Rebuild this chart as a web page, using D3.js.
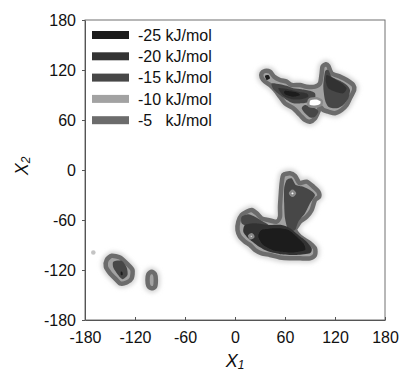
<!DOCTYPE html>
<html>
<head>
<meta charset="utf-8">
<script src="https://cdn.jsdelivr.net/npm/d3@7"></script>
<style>
  body { margin: 0; background: #fff; }
  svg { font-family: "Liberation Sans", Arial, sans-serif; }
</style>
</head>
<body>
<svg id="chart" width="399" height="375"></svg>
<script>
// legend levels and their grey shades
const levelLabels = ["-25 kJ/mol", "-20 kJ/mol", "-15 kJ/mol", "-10 kJ/mol", "-5   kJ/mol"];
const levelColors = ["#1b1b1b", "#333333", "#474747", "#a2a2a2", "#6c6c6c"];
const ticks = [-180, -120, -60, 0, 60, 120, 180];

// -5 kJ/mol contours (outer ring of each basin), [x1, x2] in degrees
const outerContours = [
  [[32,116],[36,119],[42,118],[47,112],[54,108],[62,106],[68,102],[78,102],[86,100],[96,100],[102,104],[104,116],[105,124],[109,127],[112,125],[116,116],[126,112],[134,108],[142,102],[143,96],[138,86],[134,78],[128,72],[120,68],[112,70],[106,72],[102,76],[100,70],[96,62],[90,58],[84,60],[78,66],[70,74],[60,80],[54,88],[48,96],[42,102],[36,106],[32,111]],
  [[58,-6],[66,-4],[72,-7],[76,-14],[78,-16],[86,-14],[94,-20],[100,-26],[101,-32],[96,-36],[92,-48],[86,-56],[78,-62],[74,-68],[72,-72],[78,-80],[84,-84],[90,-88],[96,-94],[96,-102],[90,-106],[78,-106],[66,-106],[54,-105],[42,-102],[32,-100],[24,-96],[18,-90],[12,-86],[6,-80],[3,-72],[4,-62],[8,-54],[14,-50],[20,-48],[26,-52],[32,-58],[40,-60],[50,-62],[54,-56],[54,-44],[55,-28],[56,-16]],
  [[-154,-108],[-148,-103],[-138,-105],[-130,-112],[-123,-120],[-124,-130],[-130,-135],[-138,-136],[-144,-130],[-150,-124],[-155,-116]],
  [[-100,-122],[-96,-125],[-95,-132],[-96,-140],[-100,-142],[-104,-139],[-105,-132],[-104,-125]]
];

// -15 kJ/mol regions
const contours15 = [
  [[44,104],[54,103],[62,101],[70,98],[80,97],[90,95],[96,92],[96,86],[90,82],[80,80],[70,80],[62,84],[54,90],[46,97]],
  [[84,78],[96,74],[100,70],[96,64],[90,63],[84,68],[80,74]],
  [[108,118],[112,120],[116,112],[126,107],[134,102],[138,96],[136,86],[130,78],[122,74],[112,76],[108,84],[106,100]],
  [[62,-12],[68,-10],[73,-18],[82,-20],[90,-24],[96,-30],[90,-40],[84,-52],[76,-62],[72,-72],[64,-72],[60,-58],[59,-40],[59,-22]],
  [[8,-56],[16,-53],[24,-56],[34,-62],[40,-66],[30,-68],[16,-68],[8,-64]],
  [[-146,-110],[-136,-109],[-130,-117],[-129,-126],[-135,-131],[-141,-125],[-146,-117]]
];

// -20 kJ/mol regions
const contours20 = [
  [[52,98],[64,97],[76,94],[86,92],[88,88],[80,85],[68,85],[58,89]],
  [[110,114],[118,110],[128,104],[134,98],[130,92],[120,94],[112,98],[109,106]],
  [[12,-66],[24,-64],[40,-66],[56,-66],[66,-70],[76,-78],[86,-86],[92,-94],[90,-100],[74,-102],[54,-101],[38,-97],[26,-90],[16,-82],[10,-74]]
];

// -25 kJ/mol regions
const contours25 = [
  [[60,95],[74,93],[78,90],[70,88],[60,91]],
  [[36,113],[40,114],[42,110],[38,108]],
  [[32,-72],[50,-70],[64,-72],[74,-80],[82,-88],[84,-96],[68,-99],[48,-97],[34,-90],[28,-80]],
  [[-137,-122],[-135,-123],[-135,-126],[-137,-126]]
];

// local maxima inside the basins (white holes)
const holes = [
  [[88,81],[90,85],[98,86],[104,83],[103,78],[96,76],[89,77]],
  [[66,-28],[69,-25],[72,-28],[69,-31]],
  [[17,-79],[20,-77],[22,-80],[19,-82]]
];
const strayPoints = [[-170,-99]];

const margin = { top: 20, right: 14, bottom: 55, left: 85 };
const width = 300, height = 300;

const svg = d3.select('#chart');
const defs = svg.append('defs');
defs.append('filter').attr('id', 'soft')
  .append('feGaussianBlur').attr('stdDeviation', 0.7);
defs.append('filter').attr('id', 'halo')
  .append('feGaussianBlur').attr('stdDeviation', 2);

const g = svg.append('g')
  .attr('transform', `translate(${margin.left},${margin.top})`);

const x = d3.scaleLinear().domain([-180, 180]).range([0, width]);
const y = d3.scaleLinear().domain([-180, 180]).range([height, 0]);

const line = d3.line()
  .x(d => x(d[0]))
  .y(d => y(d[1]))
  .curve(d3.curveCardinalClosed.tension(0.3));

// basins
const halo = g.append('g').attr('filter', 'url(#halo)');
halo.selectAll('path').data(outerContours).enter().append('path')
  .attr('d', line).attr('fill', '#d6d6d6').attr('stroke', '#d6d6d6').attr('stroke-width', 9);

const basins = g.append('g').attr('filter', 'url(#soft)');
basins.selectAll('.outer').data(outerContours).enter().append('path')
  .attr('class', 'outer')
  .attr('d', line)
  .attr('fill', levelColors[3])
  .attr('stroke', levelColors[4])
  .attr('stroke-width', 4.5);

basins.selectAll('.c15').data(contours15).enter().append('path')
  .attr('class', 'c15').attr('d', line).attr('fill', levelColors[2]);
basins.selectAll('.c20').data(contours20).enter().append('path')
  .attr('class', 'c20').attr('d', line).attr('fill', levelColors[1]);
basins.selectAll('.c25').data(contours25).enter().append('path')
  .attr('class', 'c25').attr('d', line).attr('fill', levelColors[0]);
basins.selectAll('.hole').data(holes).enter().append('path')
  .attr('class', 'hole').attr('d', line)
  .attr('fill', '#ffffff').attr('stroke', '#8a8a8a').attr('stroke-width', 2.5);

g.selectAll('.stray').data(strayPoints).enter().append('circle')
  .attr('class', 'stray')
  .attr('cx', d => x(d[0])).attr('cy', d => y(d[1])).attr('r', 2.3)
  .attr('fill', '#c4c4c4').attr('filter', 'url(#soft)');

// frame
g.append('rect').attr('width', width).attr('height', height)
  .attr('fill', 'none').attr('stroke', '#707070').attr('stroke-width', 1);

// axes, hyphen minus like the original
const fmt = d => String(d);
const xAxis = g.append('g')
  .attr('transform', `translate(0,${height})`)
  .call(d3.axisBottom(x).tickValues(ticks).tickFormat(fmt).tickSizeInner(-3).tickSizeOuter(0).tickPadding(12));
const yAxis = g.append('g')
  .call(d3.axisLeft(y).tickValues(ticks).tickFormat(fmt).tickSizeInner(3).tickSizeOuter(0).tickPadding(6));
[xAxis, yAxis].forEach(a => {
  a.select('.domain').attr('stroke', '#555');
  a.selectAll('line').attr('stroke', '#555');
  a.selectAll('text').attr('font-size', 16).attr('fill', '#111')
    .attr('font-family', '"Liberation Sans", Arial, sans-serif');
});

// axis titles
const xt = svg.append('text')
  .attr('x', margin.left + width / 2).attr('y', 367)
  .attr('text-anchor', 'middle').attr('font-size', 18).attr('font-style', 'italic').attr('fill', '#111');
xt.append('tspan').text('X');
xt.append('tspan').attr('font-size', 12).attr('dy', 2).text('1');

const yt = svg.append('text')
  .attr('transform', 'translate(28,166) rotate(-90)')
  .attr('text-anchor', 'middle').attr('font-size', 18).attr('font-style', 'italic').attr('fill', '#111');
yt.append('tspan').text('X');
yt.append('tspan').attr('font-size', 12).attr('dy', 2).text('2');

// legend
const legend = g.append('g').attr('transform', 'translate(7,15)');
const rows = legend.selectAll('g').data(levelLabels).enter().append('g')
  .attr('transform', (d, i) => `translate(0,${i * 21.3})`);
rows.append('rect')
  .attr('x', 0).attr('y', -4).attr('width', 37).attr('height', 8)
  .attr('fill', (d, i) => levelColors[i]);
rows.append('text')
  .attr('x', 46).attr('y', 0).attr('dy', '0.35em')
  .attr('font-size', 16).attr('fill', '#111')
  .style('white-space', 'pre')
  .text(d => d);
</script>
</body>
</html>
